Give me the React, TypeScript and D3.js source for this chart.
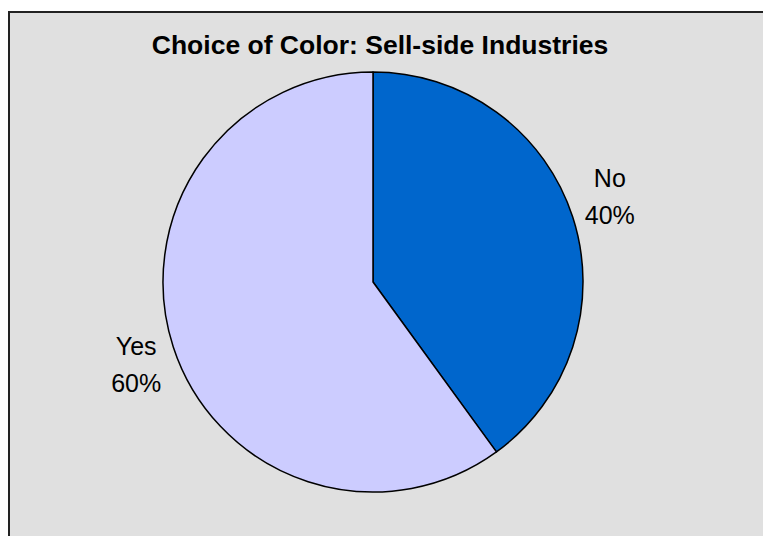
import React from "react";
import * as d3 from "d3";

const categories = ["No", "Yes"];
const values = [40, 60];
const colors = ["#0066CC", "#CCCCFF"];
const title = "Choice of Color: Sell-side Industries";

export default function App() {
  const W = 763, H = 536;
  const cx = 373, cy = 282, r = 210;
  const lrx = 249, lry = 271, lshift = 8;
  const pie = d3.pie<number>().sort(null).value((d) => d);
  const arcs = pie(values);
  const arc = d3.arc<d3.PieArcDatum<number>>().innerRadius(0).outerRadius(r);
  const total = d3.sum(values);
  return (
    <svg width={W} height={H} style={{ position: "absolute", left: 0, top: 0 }} fontFamily="'Liberation Sans', Arial, sans-serif">
      <rect x={0} y={0} width={W} height={H} fill="#ffffff" />
      <rect x={9} y={12} width={W + 20} height={H + 20} fill="#E0E0E0" stroke="#222" strokeWidth={2} />
      <text x={380} y={54} textAnchor="middle" fontWeight="bold" fontSize={26.5} fill="#000">{title}</text>
      <g transform={`translate(${cx},${cy})`}>
        {arcs.map((a, i) => (
          <path key={i} d={arc(a) || ""} fill={colors[i]} stroke="#000" strokeWidth={1.5} strokeLinejoin="round" />
        ))}
        {arcs.map((a, i) => {
          const m = (a.startAngle + a.endAngle) / 2;
          const x = Math.sin(m) * lrx;
          const y = -Math.cos(m) * lry + lshift;
          return (
            <text key={"l" + i} x={x} y={y} textAnchor="middle" fontSize={25} fill="#000">
              <tspan x={x} dy={-19}>{categories[i]}</tspan>
              <tspan x={x} dy={37}>{Math.round((values[i] / total) * 100)}%</tspan>
            </text>
          );
        })}
      </g>
    </svg>
  );
}
